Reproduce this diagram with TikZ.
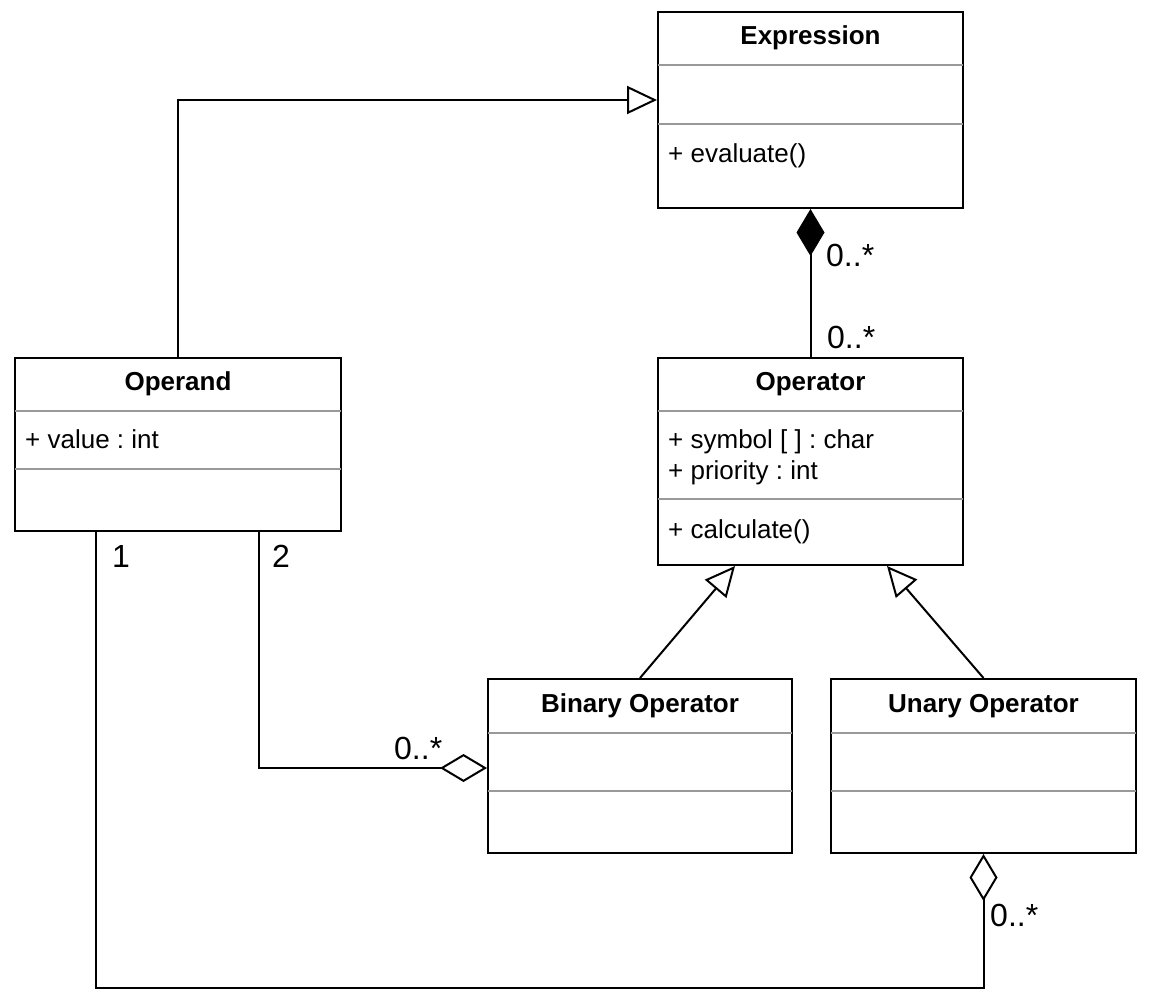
\documentclass[tikz,border=0pt]{standalone}
\usepackage{fontspec}
\setmainfont{Liberation Sans}
\usetikzlibrary{arrows.meta}
\frenchspacing
\begin{document}
\frenchspacing
\begin{tikzpicture}[x=1pt,y=-1pt,
  cls/.style={draw, line width=2pt, inner sep=0pt, anchor=center},
  sep/.style={draw=black!40, line width=1.3pt},
  conn/.style={line width=2pt},
  ttl/.style={font=\fontsize{26}{31}\selectfont\bfseries, anchor=base},
  txt/.style={font=\fontsize{26}{31}\selectfont, anchor=base west, inner sep=0pt},
  lbl/.style={font=\fontsize{32}{38}\selectfont, anchor=base west, inner sep=0pt},
  inh/.style={-{Triangle[open,length=30pt,width=28pt,line width=2pt]}},
  agg/.style={{Diamond[open,length=47pt,width=28pt,line width=2pt]}-},
  comp/.style={{Diamond[length=47pt,width=28pt,line width=2pt]}-}]
\useasboundingbox[fill=white] (0,0) rectangle (1152,1001);

% class boxes
\node[cls, minimum width=305pt, minimum height=196pt] (expr) at (810.5,110) {};
\node[cls, minimum width=326pt, minimum height=173pt] (oprd) at (178,444.5) {};
\node[cls, minimum width=305pt, minimum height=207pt] (optr) at (810.5,461.5) {};
\node[cls, minimum width=304pt, minimum height=174pt] (bin) at (640,766) {};
\node[cls, minimum width=305pt, minimum height=174pt] (una) at (983.5,766) {};

% separators
\draw[sep] (658,65) -- (963,65);
\draw[sep] (658,124) -- (963,124);
\draw[sep] (15,411) -- (341,411);
\draw[sep] (15,469) -- (341,469);
\draw[sep] (658,411) -- (963,411);
\draw[sep] (658,499) -- (963,499);
\draw[sep] (488,733) -- (792,733);
\draw[sep] (488,791) -- (792,791);
\draw[sep] (831,733) -- (1136,733);
\draw[sep] (831,791) -- (1136,791);

% titles
\node[ttl] (exprT) at (810.5,44) {Expression};
\node[ttl] (oprdT) at (178,390) {Operand};
\node[ttl] (optrT) at (810.5,390) {Operator};
\node[ttl] (binT) at (640,712) {Binary Operator};
\node[ttl] (unaT) at (983.5,712) {Unary Operator};

% members
\node[txt] (m1) at (668,162) {+ evaluate()};
\node[txt] (m2) at (25,448) {+ value : int};
\node[txt] (m3) at (668,448) {+ symbol [ ] : char};
\node[txt] (m4) at (668,479) {+ priority : int};
\node[txt] (m5) at (668,538) {+ calculate()};

% connectors
\draw[conn, inh] (oprd.north) |- ([yshift=10pt]expr.west);
\draw[conn, comp] (expr.south) -- (optr.north);
\draw[conn, inh] (bin.north) -- ([xshift=-75.5pt]optr.south);
\draw[conn, inh] (una.north) -- ([xshift=76.5pt]optr.south);
\draw[conn, agg] ([yshift=-2pt]bin.west) -| ([xshift=245pt]oprd.south west);
\draw[conn, agg] (una.south) -- ++(0,134) -| ([xshift=82pt]oprd.south west);

% multiplicities
\node[lbl] (l1) at (826,266) {0..*};
\node[lbl] (l2) at (827,348) {0..*};
\node[lbl] (l3) at (272,567) {2};
\node[lbl] (l4) at (112,567) {1};
\node[lbl] (l5) at (394,759) {0..*};
\node[lbl] (l6) at (990,926) {0..*};
\end{tikzpicture}
\end{document}
